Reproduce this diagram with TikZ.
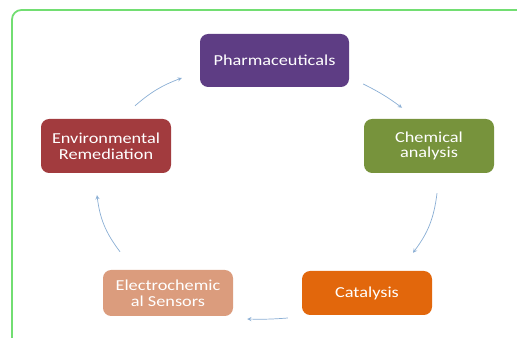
\documentclass[tikz,border=0pt]{standalone}
\usepackage{fontspec}
\setmainfont{Carlito}[FakeStretch=1.2]
\definecolor{pharmcol}{HTML}{5E3D84}
\definecolor{chemcol}{HTML}{77933C}
\definecolor{envcol}{HTML}{A23B3E}
\definecolor{catcol}{HTML}{E2670C}
\definecolor{eleccol}{HTML}{DB9C7D}
\definecolor{flowcol}{HTML}{8AAED4}
\definecolor{framecol}{HTML}{72DE72}
\tikzset{
  box/.style={rounded corners=7pt,minimum width=3.9cm,minimum height=1.62cm,
    text=white,align=center,font=\fontsize{13}{13.5}\selectfont},
  flow/.style={->,draw=flowcol,line width=.6pt},
}
\begin{document}
\begin{tikzpicture}[>=stealth]
\useasboundingbox (0,0) rectangle (15.51,10.14);
\draw[framecol,line width=1.5pt,rounded corners=8pt](.36,-1) rectangle (16,9.84);
% the five fields
\node[box,fill=pharmcol,minimum width=4.47cm,minimum height=1.59cm](pharm) at (8.235,8.325){Pharmaceuticals};
\node[box,fill=chemcol](chem) at (12.87,5.76){Chemical\\analysis};
\node[box,fill=catcol,minimum height=1.32cm](cat) at (11.01,1.35){Catalysis};
\node[box,fill=eleccol,minimum height=1.38cm](elec) at (5.04,1.35){Electrochemic\\al Sensors};
\node[box,fill=envcol](env) at (3.18,5.76){Environmental\\Remediation};
% arrows round the cycle
\draw[flow]([shift={(.87,.39)}]env.north) to[bend left=10] ([shift={(-.54,-.525)}]pharm.west);
\draw[flow]([shift={(.42,-.705)}]pharm.east) to[bend left=5] ([shift={(-.81,.33)}]chem.north);
\draw[flow]([shift={(.24,-.6)}]chem.south) to[bend left=15] ([shift={(1.38,.54)}]cat.north);
\draw[flow]([shift={(-.42,-.75)}]cat.west) to[bend left=3] ([shift={(.42,-.78)}]elec.east);
\draw[flow]([shift={(-1.44,.54)}]elec.north) to[bend left=15] ([shift={(-.27,-.66)}]env.south);
\end{tikzpicture}
\end{document}
